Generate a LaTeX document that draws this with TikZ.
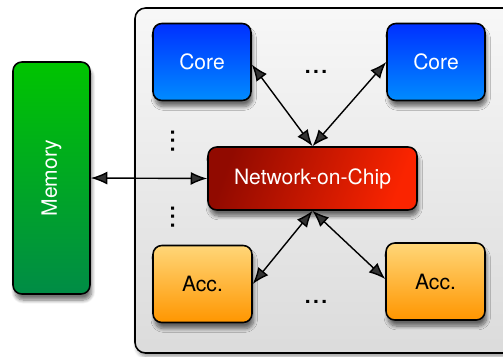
\documentclass[tikz,border=0pt]{standalone}
\usepackage{fontspec}
\setmainfont{TeX Gyre Heros}
\usetikzlibrary{arrows.meta,shadows.blur}
\tikzset{
    block/.style={draw=black, line width=0.9pt, rounded corners=5pt, font=\fontsize{12}{14}\selectfont,
        shading angle=45, blur shadow={shadow xshift=1pt, shadow yshift=-3.5pt, shadow blur steps=8, shadow opacity=55}},
    coreblock/.style={block, text=white, minimum width=1.96cm, minimum height=1.54cm,
        top color={rgb,255:red,0;green,48;blue,255}, bottom color={rgb,255:red,0;green,140;blue,255}},
    accblock/.style={block, text=black, minimum width=1.98cm, minimum height=1.54cm,
        top color={rgb,255:red,255;green,214;blue,120}, bottom color={rgb,255:red,255;green,150;blue,0}},
    dots/.style={font=\fontsize{17}{18}\selectfont, inner sep=0pt},
    link/.style={{Latex[length=3.3mm,width=2.6mm]}-{Latex[length=3.3mm,width=2.6mm]}, line width=0.8pt}
}
\begin{document}
\begin{tikzpicture}[x=0.02cm, y=-0.02cm]
    \clip (0,0) rectangle (503,356);
    % Chip
    \draw [rounded corners=6pt, line width=0.9pt, top color=white!97!black, bottom color=white!86!black,
        blur shadow={shadow xshift=1pt, shadow yshift=-2pt, shadow blur steps=6, shadow opacity=40}]
        (135,8) rectangle (530,353);
    % Memory
    \node [block, text=white, minimum width=1.54cm, minimum height=4.64cm,
        top color={rgb,255:red,0;green,196;blue,0}, bottom color={rgb,255:red,0;green,140;blue,70}]
        (mem) at (51.5,178) {};
    \node [rotate=90, text=white, font=\fontsize{12}{14}\selectfont] (memtext) at (mem.center) {Memory};
    % Blocks
    \node [coreblock] (cl) at (202,62) {Core};
    \node [coreblock] (cr) at (436,62) {Core};
    \node [block, text=white, minimum width=4.18cm, minimum height=1.26cm,
        top color={rgb,255:red,145;green,10;blue,0}, bottom color={rgb,255:red,250;green,36;blue,0}, shading angle=70]
        (noc) at (312.5,178.5) {Network-on-Chip};
    \node [accblock] (al) at (202.5,284) {Acc.};
    \node [accblock] (ar) at (435.5,281.5) {Acc.};
    % Dots
    \node [dots, anchor=base] (dtop) at (316,73) {...};
    \node [dots, anchor=base] (dbot) at (316,303) {...};
    \node [dots, rotate=-90, anchor=base] (vtop) at (171.5,141) {...};
    \node [dots, rotate=-90, anchor=base] (vbot) at (171.5,217) {...};
    % Links
    \draw [link] (mem.east) -- (noc.west);
    \draw [link] ([yshift=-0.05cm]cl.east) -- (noc.north);
    \draw [link] (cr.west) -- (noc.north);
    \draw [link] (al.east) -- (noc.south);
    \draw [link] ([yshift=0.05cm]ar.west) -- (noc.south);
\end{tikzpicture}
\end{document}
